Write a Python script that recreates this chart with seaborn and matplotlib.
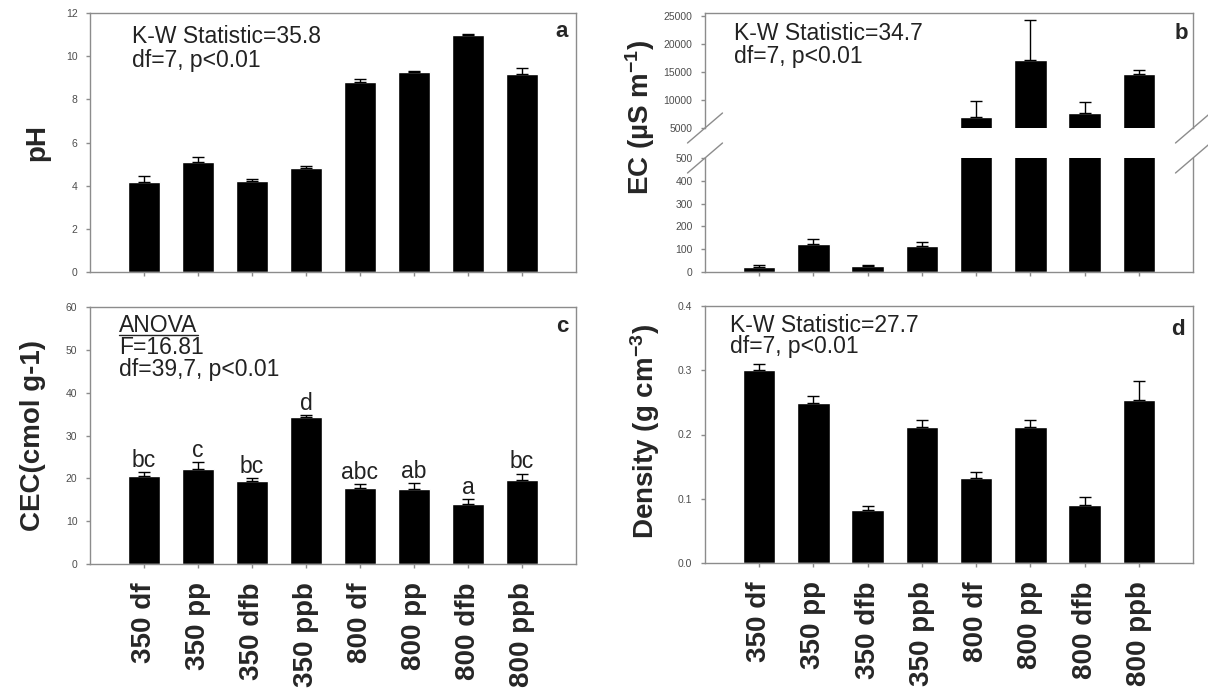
import numpy as np
import pandas as pd
import matplotlib
matplotlib.use("Agg")
import matplotlib.pyplot as plt
import seaborn as sns
from matplotlib.lines import Line2D

# data
groups = ["350 df", "350 pp", "350 dfb", "350 ppb", "800 df", "800 pp", "800 dfb", "800 ppb"]

ph_mean = [4.17, 5.10, 4.20, 4.82, 8.82, 9.25, 11.0, 9.19]
ph_err = [0.30, 0.22, 0.10, 0.10, 0.13, 0.05, 0.03, 0.24]

ec_mean = [23, 124, 27, 115, 7000, 17100, 7600, 14600]
ec_err = [7, 19, 4, 15, 2800, 7150, 2000, 650]

cec_mean = [20.6, 22.2, 19.4, 34.4, 17.7, 17.4, 13.9, 19.6]
cec_err = [0.8, 1.6, 0.6, 0.3, 1.0, 1.5, 1.3, 1.5]
cec_letters = ["bc", "c", "bc", "d", "abc", "ab", "a", "bc"]

dens_mean = [0.300, 0.249, 0.083, 0.212, 0.132, 0.212, 0.091, 0.254]
dens_err = [0.010, 0.011, 0.005, 0.011, 0.009, 0.011, 0.012, 0.029]

sns.set_theme(style="white")
plt.rcParams["font.family"] = ["Liberation Sans", "DejaVu Sans"]
plt.rcParams["mathtext.fontset"] = "custom"
plt.rcParams["mathtext.rm"] = "Liberation Sans:bold"
plt.rcParams["mathtext.it"] = "Liberation Sans:bold"
plt.rcParams["mathtext.bf"] = "Liberation Sans:bold"
plt.rcParams["mathtext.default"] = "rm"

SPINE = "#8c8c8c"
TICK_TXT = "#4d4d4d"
TXT = "#222222"
ANNO = 16.5

W, H = 1208, 691
fig = plt.figure(figsize=(W / 100, H / 100), dpi=100)


def box(x0, x1, y0, y1):
    return [x0 / W, 1 - y1 / H, (x1 - x0) / W, (y1 - y0) / H]


ax_a = fig.add_axes(box(90, 576, 13, 272))
ax_bu = fig.add_axes(box(705, 1193, 13, 128))
ax_bl = fig.add_axes(box(705, 1193, 158, 272))
ax_c = fig.add_axes(box(90, 576, 307, 564))
ax_d = fig.add_axes(box(705, 1193, 306, 563))


def bars(ax, mean, err, labels=False):
    df = pd.DataFrame({"group": groups, "value": mean})
    sns.barplot(data=df, x="group", y="value", color="black", saturation=1,
                width=0.6, errorbar=None, ax=ax)
    ax.errorbar(np.arange(len(groups)), mean, yerr=[np.zeros(len(err)), err],
                fmt="none", ecolor="black", elinewidth=1, capsize=4, capthick=1)
    ax.set_xlim(-1, 8)
    ax.set_xlabel("")
    ax.set_ylabel("")
    for s in ax.spines.values():
        s.set_color(SPINE)
        s.set_linewidth(1)
    ax.tick_params(axis="both", direction="out", length=3, width=1, color=SPINE,
                   bottom=True, left=True)
    ax.tick_params(axis="y", labelsize=7.5, labelcolor=TICK_TXT, pad=6)
    ax.set_xticks(range(len(groups)))
    if labels:
        ax.set_xticklabels(groups, rotation=90, fontsize=20, fontweight="bold")
        ax.tick_params(axis="x", pad=10)
    else:
        ax.set_xticklabels([])


# a: pH
bars(ax_a, ph_mean, ph_err)
ax_a.set_ylim(0, 12)
ax_a.set_yticks(range(0, 13, 2))
ax_a.set_ylabel("pH", fontsize=20, fontweight="bold")
ax_a.yaxis.set_label_coords(-0.082, 0.5)
ax_a.text(0.086, 0.883, "K-W Statistic=35.8", transform=ax_a.transAxes, fontsize=ANNO,
          va="baseline", color=TXT)
ax_a.text(0.086, 0.793, "df=7, p<0.01", transform=ax_a.transAxes, fontsize=ANNO,
          va="baseline", color=TXT)
ax_a.text(0.984, 0.908, "a", transform=ax_a.transAxes, fontsize=16, fontweight="bold",
          ha="right", va="baseline")

# b: EC with broken axis
bars(ax_bu, ec_mean, ec_err)
bars(ax_bl, ec_mean, ec_err)
ax_bu.set_ylim(5000, 25500)
ax_bu.set_yticks(range(5000, 25001, 5000))
ax_bu.spines["bottom"].set_visible(False)
ax_bu.tick_params(axis="x", bottom=False)
ax_bl.set_ylim(0, 500)
ax_bl.set_yticks(range(0, 501, 100))
ax_bl.spines["top"].set_visible(False)
for xs in (705, 1193):
    for ys in (128, 158):
        fig.add_artist(Line2D([(xs - 17.5) / W, (xs + 17.5) / W],
                              [1 - (ys + 15) / H, 1 - (ys - 15) / H],
                              transform=fig.transFigure, color=SPINE, lw=1))
fig.text(657 / W, 1 - 117 / H, "EC (µS m$^{-1}$)", rotation=90, ha="right", va="center",
         fontsize=20, fontweight="bold")
fig.text(734 / W, 1 - 40 / H, "K-W Statistic=34.7", fontsize=ANNO, va="baseline", color=TXT)
fig.text(734 / W, 1 - 63 / H, "df=7, p<0.01", fontsize=ANNO, va="baseline", color=TXT)
fig.text(1188 / W, 1 - 39 / H, "b", fontsize=16, fontweight="bold", ha="right", va="baseline")

# c: CEC
bars(ax_c, cec_mean, cec_err, labels=True)
ax_c.set_ylim(0, 60)
ax_c.set_yticks(range(0, 61, 10))
ax_c.set_ylabel("CEC(cmol g-1)", fontsize=20, fontweight="bold")
ax_c.yaxis.set_label_coords(-0.09, 0.5)
t_anova = ax_c.text(0.06, 0.904, "ANOVA", transform=ax_c.transAxes, fontsize=ANNO,
                    va="baseline", color=TXT)
ax_c.text(0.06, 0.817, "F=16.81", transform=ax_c.transAxes, fontsize=ANNO, va="baseline", color=TXT)
ax_c.text(0.06, 0.732, "df=39,7, p<0.01", transform=ax_c.transAxes, fontsize=ANNO,
          va="baseline", color=TXT)
ax_c.text(0.984, 0.904, "c", transform=ax_c.transAxes, fontsize=16, fontweight="bold",
          ha="right", va="baseline")
for i, (m, e, lab) in enumerate(zip(cec_mean, cec_err, cec_letters)):
    ax_c.text(i, m + e + 1.2, lab, ha="center", va="baseline", fontsize=ANNO, color=TXT)
fig.canvas.draw()
bb = t_anova.get_window_extent(fig.canvas.get_renderer())
inv = ax_c.transAxes.inverted()
(ux0, _), (ux1, _) = inv.transform([(bb.x0, bb.y0), (bb.x1, bb.y0)])
uy = 0.904 - 3 / 257
ax_c.plot([ux0, ux1], [uy, uy], transform=ax_c.transAxes, color=TXT, lw=1)

# d: Density
bars(ax_d, dens_mean, dens_err, labels=True)
ax_d.set_ylim(0, 0.4)
ax_d.set_yticks([0.0, 0.1, 0.2, 0.3, 0.4])
ax_d.set_yticklabels(["0.0", "0.1", "0.2", "0.3", "0.4"])
ax_d.set_ylabel("Density (g cm$^{-3}$)", fontsize=20, fontweight="bold")
ax_d.yaxis.set_label_coords(-0.088, 0.51)
ax_d.text(0.051, 0.9, "K-W Statistic=27.7", transform=ax_d.transAxes, fontsize=ANNO,
          va="baseline", color=TXT)
ax_d.text(0.051, 0.817, "df=7, p<0.01", transform=ax_d.transAxes, fontsize=ANNO,
          va="baseline", color=TXT)
ax_d.text(0.984, 0.887, "d", transform=ax_d.transAxes, fontsize=16, fontweight="bold",
          ha="right", va="baseline")

fig.savefig("out.png", dpi=100)
